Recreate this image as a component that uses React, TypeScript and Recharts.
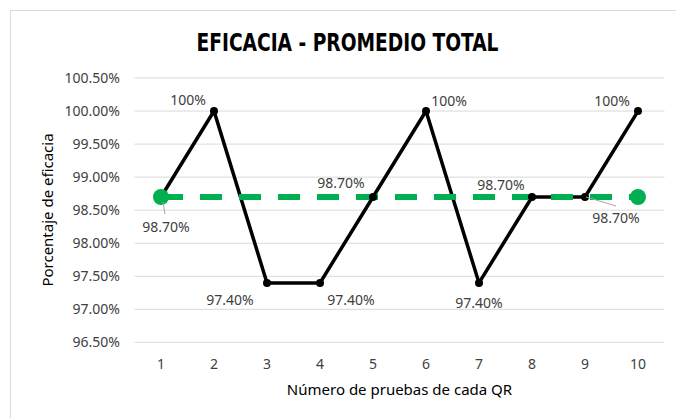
import React from 'react';
import { LineChart, Line, XAxis, YAxis, CartesianGrid } from 'recharts';

const categories = ['1', '2', '3', '4', '5', '6', '7', '8', '9', '10'];
const eficacia = [98.7, 100, 97.4, 97.4, 98.7, 100, 97.4, 98.7, 98.7, 100];
const promedio = [98.7, 98.7, 98.7, 98.7, 98.7, 98.7, 98.7, 98.7, 98.7, 98.7];
const yTicks = [96.5, 97, 97.5, 98, 98.5, 99, 99.5, 100, 100.5];

// label placement offsets (dx, dy of label center relative to point)
const labelOffsets: [number, number][] = [
  [5, 30], [-26, -12], [-37, 17], [31, 17], [-32, -14],
  [23, -11], [0, 20], [-31, -12], [31, 21], [-26, -11],
];
const leaderLines: Record<number, [number, number, number, number]> = {
  0: [2, 5, 4, 17],
  8: [1, 0, 31, 9],
};

const data = categories.map((c, i) => ({ cat: c, eficacia: eficacia[i], promedio: promedio[i] }));

const FONT = "'Noto Sans', 'Open Sans', sans-serif";
const fmt = (v: number) => (v === 100 ? '100%' : v.toFixed(2) + '%');

const renderLabel = (props: any) => {
  const { x, y, index, value } = props;
  const [dx, dy] = labelOffsets[index];
  const ll = leaderLines[index];
  return (
    <g key={'lbl' + index}>
      {ll && (
        <line x1={x + ll[0]} y1={y + ll[1]} x2={x + ll[2]} y2={y + ll[3]} stroke="#a6a6a6" strokeWidth={1} />
      )}
      <text x={x + dx} y={y + dy} textAnchor="middle" dominantBaseline="central" fontSize={14} fontFamily={FONT} fill="#404040">
        {fmt(value)}
      </text>
    </g>
  );
};

const GreenDot = (props: any) => {
  const { cx, cy, index } = props;
  if (index !== 0 && index !== categories.length - 1) return <g key={'gd' + index} />;
  return <circle key={'gd' + index} cx={cx} cy={cy} r={8} fill="#00B050" />;
};

export default function App() {
  return (
    <div style={{ position: 'absolute', left: 0, top: 0, width: 676, height: 418, background: '#fff', overflow: 'hidden' }}>
      <div style={{ position: 'absolute', left: 10, top: 10, width: 700, height: 450, borderLeft: '1.5px solid #d9d9d9', borderTop: '1.5px solid #d9d9d9' }} />
      <div style={{ position: 'absolute', left: 0, top: 0 }}>
        <LineChart width={676} height={418} data={data} margin={{ top: 78, right: 11.5, bottom: 45.6, left: 54.5 }}>
          <text x={347.5} y={51} textAnchor="middle" fontSize={24} fontWeight="bold" textLength={302} lengthAdjust="spacingAndGlyphs"
            fontFamily="'DejaVu Sans Condensed', 'Noto Sans', sans-serif" fill="#000">
            EFICACIA - PROMEDIO TOTAL
          </text>
          <CartesianGrid horizontal vertical={false} stroke="#d9d9d9" strokeWidth={1} />
          <XAxis dataKey="cat" axisLine={false} tickLine={false} tickSize={0} tickMargin={17} height={30}
            padding={{ left: 26.5, right: 26.5 }}
            tick={{ fontSize: 14, fontFamily: FONT, fill: '#404040' }} interval={0} />
          <YAxis domain={[96.5, 100.5]} ticks={yTicks} axisLine={false} tickLine={false} tickSize={0} tickMargin={14.5} width={80}
            tickFormatter={(v: number) => v.toFixed(2) + '%'} tick={{ fontSize: 14, fontFamily: FONT, fill: '#404040' }} />
          <Line dataKey="eficacia" stroke="#000" strokeWidth={3.5} dot={false} activeDot={false} isAnimationActive={false} />
          <Line dataKey="promedio" stroke="#00B050" strokeWidth={6} strokeDasharray="22 17" dot={false} activeDot={false} isAnimationActive={false} />
          <Line dataKey="eficacia" stroke="none" dot={{ r: 4, fill: '#000', stroke: 'none' }} activeDot={false} label={renderLabel} isAnimationActive={false} />
          <Line dataKey="promedio" stroke="none" dot={<GreenDot />} activeDot={false} isAnimationActive={false} />
          <text x={47} y={210} transform="rotate(-90 47 210)" textAnchor="middle" dominantBaseline="central" fontSize={15} fontFamily={FONT} fill="#000">
            Porcentaje de eficacia
          </text>
          <text x={399.5} y={389} textAnchor="middle" dominantBaseline="central" fontSize={15} fontFamily={FONT} fill="#000">
            Número de pruebas de cada QR
          </text>
        </LineChart>
      </div>
    </div>
  );
}
